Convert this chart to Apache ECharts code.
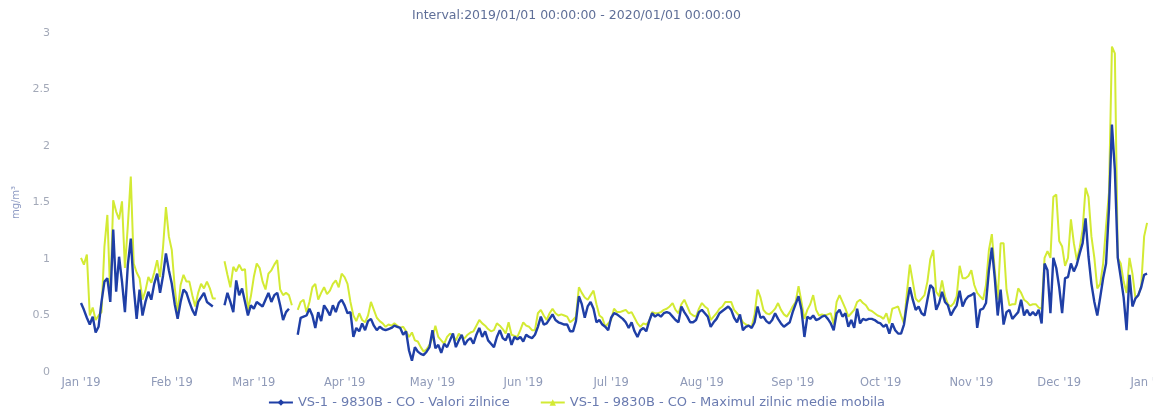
<!DOCTYPE html>
<html><head><meta charset="utf-8">
<script src="https://cdn.jsdelivr.net/npm/echarts@6/dist/echarts.min.js"></script>
<style>html,body{margin:0;padding:0;background:#fff;overflow:hidden}#c{width:1153px;height:407px}</style>
</head><body><div id="c"></div>
<script>
const titleText = 'Interval:2019/01/01 00:00:00 - 2020/01/01 00:00:00';
const seriesNames = ['VS-1 - 9830B - CO - Valori zilnice', 'VS-1 - 9830B - CO - Maximul zilnic medie mobila'];
const unitName = 'mg/m\u00b3';
const monthLabels = ["Jan '19","Feb '19","Mar '19","Apr '19","May '19","Jun '19","Jul '19","Aug '19","Sep '19","Oct '19","Nov '19","Dec '19","Jan '20"];
const yTicks = [0, 0.5, 1, 1.5, 2, 2.5, 3];

// daily values, one per day from 2019-01-01 (rows of 10 days)
const dailyValues = [
0.61,0.55,0.48,0.42,0.49,0.35,0.40,0.62,0.80,0.83,
0.62,1.26,0.71,1.02,0.80,0.53,0.95,1.18,0.75,0.47,
0.73,0.50,0.62,0.71,0.64,0.78,0.87,0.70,0.85,1.05,
0.90,0.78,0.60,0.47,0.62,0.73,0.70,0.62,0.55,0.50,
0.62,0.66,0.70,0.62,0.60,0.58,null,null,null,0.59,
0.70,0.62,0.53,0.81,0.68,0.74,0.62,0.50,0.59,0.56,
0.62,0.60,0.58,0.64,0.70,0.62,0.68,0.70,0.59,0.46,
0.53,0.56,null,null,0.33,0.48,0.49,0.50,0.56,0.50,
0.39,0.53,0.45,0.59,0.55,0.50,0.59,0.53,0.61,0.64,
0.59,0.52,0.53,0.31,0.39,0.36,0.43,0.37,0.45,0.47,
0.41,0.37,0.40,0.38,0.37,0.38,0.39,0.41,0.40,0.39,
0.33,0.36,0.19,0.10,0.22,0.18,0.16,0.15,0.18,0.22,
0.37,0.21,0.24,0.17,0.25,0.22,0.28,0.34,0.22,0.28,
0.33,0.24,0.28,0.30,0.25,0.33,0.39,0.31,0.36,0.28,
0.25,0.22,0.31,0.37,0.30,0.28,0.34,0.24,0.31,0.29,
0.31,0.27,0.33,0.31,0.30,0.33,0.40,0.49,0.42,0.43,
0.47,0.51,0.46,0.44,0.43,0.42,0.42,0.36,0.36,0.45,
0.67,0.60,0.48,0.58,0.62,0.56,0.44,0.46,0.42,0.40,
0.37,0.48,0.52,0.51,0.49,0.47,0.44,0.39,0.44,0.36,
0.31,0.37,0.39,0.36,0.45,0.52,0.49,0.51,0.49,0.52,
0.53,0.52,0.49,0.46,0.44,0.58,0.53,0.49,0.44,0.44,
0.46,0.53,0.55,0.52,0.49,0.40,0.44,0.47,0.52,0.54,
0.56,0.58,0.55,0.48,0.44,0.51,0.37,0.40,0.41,0.39,
0.44,0.58,0.48,0.49,0.45,0.43,0.46,0.52,0.47,0.43,
0.40,0.42,0.44,0.53,0.60,0.67,0.55,0.31,0.49,0.47,
0.50,0.46,0.47,0.49,0.50,0.47,0.43,0.37,0.52,0.55,
0.49,0.52,0.40,0.46,0.39,0.56,0.43,0.47,0.46,0.47,
0.47,0.46,0.44,0.43,0.40,0.42,0.34,0.43,0.37,0.34,
0.34,0.42,0.60,0.75,0.64,0.55,0.58,0.52,0.50,0.64,
0.77,0.74,0.55,0.61,0.71,0.62,0.59,0.50,0.55,0.59,
0.72,0.58,0.64,0.67,0.68,0.70,0.39,0.55,0.56,0.61,
0.90,1.10,0.83,0.50,0.73,0.42,0.53,0.55,0.47,0.50,
0.53,0.64,0.50,0.55,0.50,0.53,0.50,0.55,0.43,0.96,
0.90,0.52,1.01,0.92,0.75,0.52,0.83,0.84,0.96,0.89,
0.95,1.05,1.14,1.36,1.02,0.78,0.62,0.50,0.66,0.83,
0.96,1.45,2.19,1.79,1.01,0.84,0.66,0.37,0.86,0.58,
0.65,0.68,0.75,0.86,0.87
];

// daily maximum of moving average, one per day from 2019-01-01
const movingMax = [
1.01,0.95,1.04,0.50,0.57,0.46,0.50,0.53,1.11,1.39,
0.67,1.52,1.42,1.35,1.51,0.92,1.30,1.73,0.96,0.88,
0.83,0.64,0.72,0.84,0.79,0.88,0.99,0.84,1.10,1.46,
1.20,1.08,0.75,0.52,0.77,0.86,0.80,0.80,0.68,0.58,
0.70,0.78,0.74,0.80,0.74,0.65,0.65,null,null,0.98,
0.86,0.75,0.93,0.89,0.95,0.90,0.91,0.55,0.67,0.84,
0.96,0.92,0.80,0.73,0.87,0.90,0.95,0.99,0.73,0.68,
0.70,0.68,0.59,null,0.55,0.62,0.64,0.53,0.62,0.75,
0.78,0.64,0.70,0.75,0.69,0.72,0.78,0.81,0.75,0.87,
0.84,0.78,0.62,0.50,0.45,0.52,0.46,0.44,0.50,0.62,
0.55,0.48,0.45,0.43,0.40,0.42,0.41,0.43,0.41,0.39,
0.40,0.36,0.31,0.35,0.28,0.27,0.22,0.18,0.20,0.24,
0.30,0.41,0.31,0.28,0.25,0.31,0.34,0.32,0.28,0.34,
0.31,0.30,0.33,0.35,0.36,0.41,0.46,0.43,0.41,0.38,
0.36,0.37,0.43,0.41,0.38,0.34,0.44,0.33,0.32,0.31,
0.37,0.44,0.41,0.40,0.37,0.37,0.52,0.55,0.50,0.46,
0.52,0.56,0.52,0.50,0.51,0.50,0.49,0.44,0.46,0.49,
0.75,0.70,0.66,0.64,0.68,0.72,0.60,0.50,0.48,0.40,
0.43,0.46,0.56,0.53,0.53,0.54,0.55,0.52,0.53,0.48,
0.43,0.40,0.43,0.42,0.45,0.53,0.52,0.52,0.53,0.55,
0.56,0.58,0.61,0.55,0.52,0.60,0.64,0.58,0.52,0.50,
0.49,0.56,0.61,0.58,0.56,0.46,0.49,0.52,0.56,0.58,
0.62,0.62,0.62,0.55,0.52,0.49,0.44,0.42,0.41,0.40,
0.51,0.73,0.66,0.55,0.52,0.51,0.53,0.56,0.61,0.55,
0.51,0.49,0.53,0.58,0.62,0.76,0.62,0.47,0.55,0.60,
0.68,0.55,0.50,0.51,0.50,0.51,0.52,0.42,0.62,0.68,
0.62,0.56,0.49,0.52,0.55,0.62,0.64,0.61,0.59,0.55,
0.54,0.52,0.50,0.49,0.47,0.52,0.43,0.56,0.57,0.58,
0.50,0.43,0.70,0.95,0.80,0.65,0.62,0.65,0.68,0.80,
1.00,1.08,0.71,0.67,0.81,0.67,0.60,0.58,0.61,0.67,
0.94,0.83,0.83,0.85,0.90,0.77,0.70,0.67,0.64,0.77,
1.08,1.22,0.90,0.64,1.14,1.14,0.73,0.59,0.60,0.60,
0.74,0.70,0.64,0.62,0.59,0.60,0.60,0.57,0.56,1.01,
1.07,1.01,1.55,1.57,1.16,1.11,0.94,1.01,1.35,1.14,
0.99,1.10,1.26,1.63,1.55,1.20,1.01,0.74,0.78,0.96,
1.29,1.59,2.88,2.82,1.01,0.96,0.80,0.70,1.01,0.87,
0.66,0.68,0.76,1.20,1.32
];

// categories: every day of 2019 plus 2020-01-01
const categories = [];
const monthStarts = {};
(function () {
  const dim = [31,28,31,30,31,30,31,31,30,31,30,31];
  let mi = 0;
  for (let m = 0; m < 12; m++) {
    for (let d = 1; d <= dim[m]; d++) {
      const s = '2019-' + String(m + 1).padStart(2, '0') + '-' + String(d).padStart(2, '0');
      if (d === 1) monthStarts[s] = monthLabels[mi++];
      categories.push(s);
    }
  }
  categories.push('2020-01-01');
  monthStarts['2020-01-01'] = monthLabels[12];
})();

const font = 'DejaVu Sans, Verdana, sans-serif';
const chart = echarts.init(document.getElementById('c'), null, { renderer: 'canvas' });
chart.setOption({
  animation: false,
  backgroundColor: '#ffffff',
  title: {
    text: titleText, left: 'center', top: 4,
    textStyle: { fontFamily: font, fontSize: 12.5, fontWeight: 'normal', color: '#5f6f98' }
  },
  legend: {
    top: 391, left: 'center', itemGap: 30, itemWidth: 24, itemHeight: 8,
    textStyle: { fontFamily: font, fontSize: 13, color: '#6a7bb0' },
    data: seriesNames
  },
  grid: { left: 81, right: 3, top: 33, bottom: 35, containLabel: false, outerBoundsMode: 'none' },
  xAxis: {
    type: 'category', data: categories, boundaryGap: false,
    axisLine: { show: false }, axisTick: { show: false },
    splitLine: { show: false },
    axisLabel: {
      interval: function (i, v) { return monthStarts[v] !== undefined; },
      formatter: function (v) { return monthStarts[v] || ''; },
      fontFamily: font, fontSize: 11.5, color: '#8f9ab8', margin: 5
    }
  },
  yAxis: {
    type: 'value', min: yTicks[0], max: yTicks[yTicks.length - 1], interval: 0.5,
    name: unitName, nameLocation: 'middle', nameRotate: 90, nameGap: 60,
    nameTextStyle: { fontFamily: font, fontSize: 10, color: '#8f9cc4' },
    axisLine: { show: false }, axisTick: { show: false },
    splitLine: { show: false },
    axisLabel: { fontFamily: font, fontSize: 11, color: '#a3a9b8', margin: 31 }
  },
  series: [
    {
      name: seriesNames[0], type: 'line', data: dailyValues, z: 3,
      symbol: 'diamond', symbolSize: 8, showSymbol: false, connectNulls: false,
      lineStyle: { color: '#1f3fa6', width: 2.4 }, itemStyle: { color: '#1f3fa6' }
    },
    {
      name: seriesNames[1], type: 'line', data: movingMax, z: 2,
      symbol: 'triangle', symbolSize: 8, showSymbol: false, connectNulls: false,
      lineStyle: { color: '#d3ea34', width: 2 }, itemStyle: { color: '#d3ea34' }
    }
  ]
});
</script></body></html>
